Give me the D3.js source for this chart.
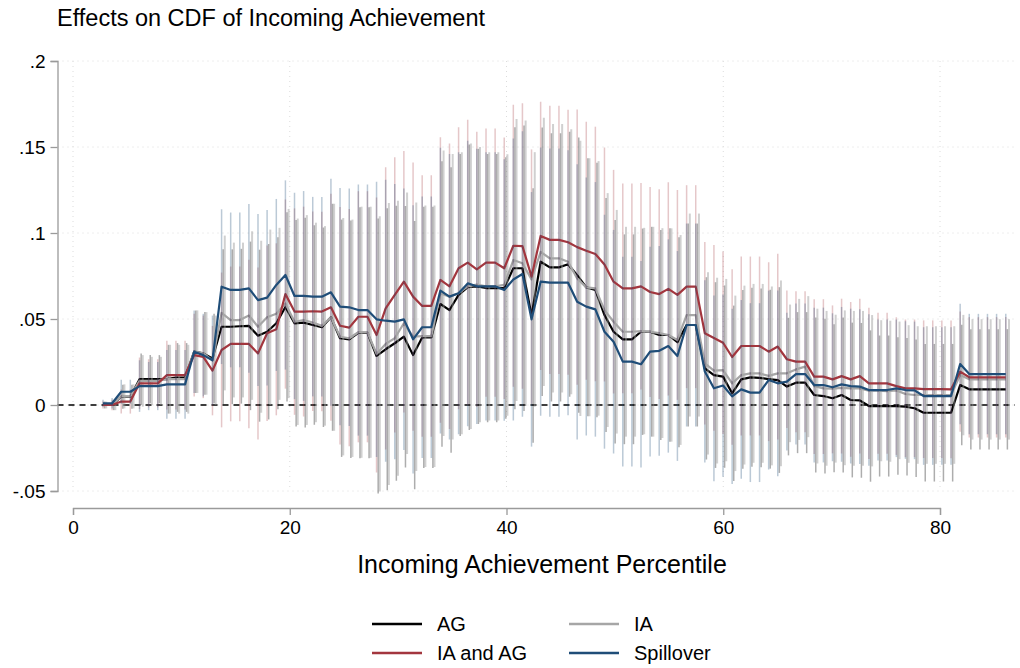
<!DOCTYPE html>
<html>
<head>
<meta charset="utf-8">
<script src="https://cdn.jsdelivr.net/npm/d3@7/dist/d3.min.js"></script>
<style>
body { margin: 0; background: #fff; }
text { font-family: "Liberation Sans", Arial, sans-serif; }
</style>
</head>
<body>
<svg id="chart" width="1020" height="668"></svg>
<script>
// percentile position of each estimate (x axis)
var percentiles = [2.77, 3.61, 4.45, 5.29, 6.14, 6.98, 7.82, 8.66, 9.50, 10.34,
    11.18, 12.02, 12.87, 13.71, 14.55, 15.39, 16.23, 17.07, 17.91, 18.76,
    19.60, 20.44, 21.28, 22.12, 22.96, 23.80, 24.64, 25.49, 26.33, 27.17,
    28.01, 28.85, 29.69, 30.53, 31.38, 32.22, 33.06, 33.90, 34.74, 35.58,
    36.42, 37.26, 38.11, 38.95, 39.79, 40.63, 41.47, 42.31, 43.15, 44.00,
    44.84, 45.68, 46.52, 47.36, 48.20, 49.04, 49.88, 50.73, 51.57, 52.41,
    53.25, 54.09, 54.93, 55.77, 56.62, 57.46, 58.30, 59.14, 59.98, 60.82,
    61.66, 62.50, 63.35, 64.19, 65.03, 65.87, 66.71, 67.55, 68.39, 69.24,
    70.08, 70.92, 71.76, 72.60, 73.44, 74.28, 75.12, 75.97, 76.81, 77.65,
    78.49, 79.33, 80.17, 81.02, 81.86, 82.70, 83.54, 84.38, 85.22, 86.07];

var agEffect = [0, 0, .0048, .0048, .015, .015, .015, .015, .016, .016,
    .031, .030, .027, .0455, .0455, .0458, .046, .0403, .0426, .0475,
    .057, .0475, .0479, .0465, .0452, .051, .0388, .0382, .042, .042,
    .0285, .0324, .0359, .0397, .029, .0393, .0393, .0587, .0552, .064,
    .0685, .069, .068, .068, .068, .0795, .0795, .052, .0833, .080,
    .080, .0818, .0755, .0684, .0669, .0523, .0426, .0382, .0382, .0426,
    .0426, .0407, .0407, .0365, .0465, .0465, .0213, .0174, .0165, .0068,
    .0149, .0161, .0158, .0150, .0145, .0107, .013, .013, .0058, .0052,
    .0039, .0058, .0029, .0027, -.0006, -.0006, -.0006, -.0006, -.001, -.0019,
    -.0045, -.0045, -.0045, -.0045, .0116, .0091, .0091, .0091, .0091, .0091];

var iaEffect = [0, 0, .005, .005, .014, .014, .014, .015, .015, .015,
    .031, .030, .026, .0535, .0494, .0494, .052, .0455, .051, .053,
    .059, .0484, .0494, .048, .046, .051, .0397, .0388, .0423, .0423,
    .0297, .0355, .0388, .0475, .0397, .040, .040, .065, .063, .065,
    .069, .070, .069, .069, .0698, .0843, .0824, .073, .089, .0853,
    .0853, .0833, .0736, .0684, .0678, .0552, .0484, .0426, .0426, .043,
    .0426, .0418, .0407, .0378, .0523, .0523, .0242, .020, .0203, .0126,
    .0174, .0184, .0184, .0169, .0184, .0184, .0207, .0223, .011, .0097,
    .0095, .010, .0097, .0097, .0083, .0083, .008, .0085, .0064, .0058,
    .0058, .0058, .0058, .0058, .0174, .0149, .0149, .0149, .0149, .0149];

var iaAgEffect = [0, 0, .002, .002, .0126, .0126, .0126, .0174, .0174, .0174,
    .029, .028, .020, .032, .0355, .0355, .0355, .030, .0417, .044,
    .0645, .0543, .0543, .0545, .0543, .0568, .0461, .045, .0513, .0513,
    .0407, .0562, .064, .0717, .063, .0576, .0576, .0727, .069, .0795,
    .0828, .0789, .0828, .0828, .0795, .0926, .0924, .0746, .0983, .096,
    .096, .0946, .0918, .0897, .0878, .0817, .0717, .0678, .0678, .069,
    .0657, .0645, .0675, .064, .0688, .0688, .0417, .039, .0362, .0279,
    .0343, .0343, .0343, .031, .034, .0266, .0252, .0252, .0165, .0165,
    .0149, .0168, .0149, .0168, .0126, .0126, .0126, .011, .0097, .0097,
    .0092, .0092, .0092, .0091, .0194, .0161, .0161, .0161, .0161, .0161];

var spilloverEffect = [.001, .001, .0077, .0077, .011, .011, .011, .012, .012, .012,
    .031, .029, .026, .0688, .0669, .0669, .0678, .061, .0624, .0698,
    .0756, .0634, .0634, .063, .063, .0655, .0572, .0568, .0552, .0552,
    .0498, .049, .0485, .0498, .0382, .0452, .0452, .0665, .063, .065,
    .0707, .069, .069, .069, .0669, .073, .0762, .0498, .0717, .0711,
    .0711, .0711, .060, .0572, .0556, .0426, .0368, .0252, .0252, .0237,
    .031, .0315, .0343, .0285, .0465, .0465, .0195, .0097, .0113, .005,
    .0091, .0072, .0072, .0145, .0126, .0136, .018, .018, .0116, .0116,
    .0103, .012, .011, .0107, .0087, .0087, .0087, .0097, .0087, .0085,
    .0052, .0052, .0052, .0052, .0238, .018, .018, .018, .018, .018];

// half width of the 95% interval at each percentile
var ciHalfWidth = [.002, .003, .007, .007, .015, .014, .014, .020, .020, .020,
    .024, .024, .026, .045, .045, .045, .049, .050, .051, .050,
    .055, .060, .061, .058, .058, .066, .069, .069, .073, .073,
    .080, .082, .080, .076, .078, .076, .076, .083, .083, .082,
    .083, .080, .078, .078, .076, .082, .083, .074, .078, .078,
    .078, .077, .080, .075, .074, .068, .065, .061, .061, .060,
    .061, .061, .062, .061, .059, .059, .053, .054, .053, .051,
    .052, .052, .052, .052, .054, .040, .041, .041, .045, .045,
    .043, .045, .045, .045, .044, .041, .041, .040, .040, .040,
    .040, .040, .040, .040, .035, .035, .035, .035, .035, .035];

var seriesNames = ["AG", "IA", "IA and AG", "Spillover"];
var seriesValues = [agEffect, iaEffect, iaAgEffect, spilloverEffect];
var seriesColors = ["#000000", "#a6a6a6", "#a3363e", "#1f4d78"];
var ciColors = ["rgba(0,0,0,0.32)", "rgba(150,150,150,0.45)", "rgba(163,54,62,0.28)", "rgba(31,77,120,0.3)"];
var ciOffsets = [1.6, 3.2, 0, 0];

var xTicks = [0, 20, 40, 60, 80];
var yTicks = [-0.05, 0, 0.05, 0.1, 0.15, 0.2];

var svg = d3.select("#chart");
var x = d3.scaleLinear().domain([0, 80]).range([73, 940]);
var y = d3.scaleLinear().domain([-0.05, 0.2]).range([491, 61]);
var plotLeft = 57.5, plotRight = 1015, xAxisY = 508;

// grid
svg.append("g").selectAll("line").data(yTicks).enter().append("line")
    .attr("x1", plotLeft).attr("x2", plotRight)
    .attr("y1", function (d) { return y(d); }).attr("y2", function (d) { return y(d); })
    .attr("stroke", "#dcdcdc").attr("stroke-width", 1).attr("stroke-dasharray", "1,4");
svg.append("g").selectAll("line").data(xTicks).enter().append("line")
    .attr("x1", function (d) { return x(d); }).attr("x2", function (d) { return x(d); })
    .attr("y1", y(0.2)).attr("y2", y(-0.05))
    .attr("stroke", "#dcdcdc").attr("stroke-width", 1).attr("stroke-dasharray", "1,4");

// zero reference line
svg.append("line")
    .attr("x1", plotLeft).attr("x2", plotRight)
    .attr("y1", y(0)).attr("y2", y(0))
    .attr("stroke", "#000").attr("stroke-width", 1.5).attr("stroke-dasharray", "6,5");

var line = d3.line()
    .x(function (d, i) { return x(percentiles[i]); })
    .y(function (d) { return y(d); });

seriesValues.forEach(function (vals, s) {
    // confidence spikes
    svg.append("g").selectAll("line").data(vals).enter().append("line")
        .attr("x1", function (d, i) { return x(percentiles[i]) + ciOffsets[s]; })
        .attr("x2", function (d, i) { return x(percentiles[i]) + ciOffsets[s]; })
        .attr("y1", function (d, i) { return y(d - ciHalfWidth[i]); })
        .attr("y2", function (d, i) { return y(d + ciHalfWidth[i]); })
        .attr("stroke", ciColors[s])
        .attr("stroke-width", s === 1 ? 2 : 1.5);
    svg.append("path").datum(vals)
        .attr("d", line)
        .attr("fill", "none")
        .attr("stroke", seriesColors[s])
        .attr("stroke-width", 2.2)
        .attr("stroke-linejoin", "round");
});

// axes
var yAxis = svg.append("g").attr("transform", "translate(" + plotLeft + ",0)")
    .call(d3.axisLeft(y).tickValues(yTicks).tickSizeOuter(0).tickSize(7)
        .tickFormat(function (d) { return d === 0 ? "0" : String(+d.toFixed(2)).replace("0.", "."); }));
var xAxis = svg.append("g").attr("transform", "translate(0," + xAxisY + ")")
    .call(d3.axisBottom(x).tickValues(xTicks).tickSizeOuter(0).tickSize(7));
[yAxis, xAxis].forEach(function (g) {
    g.select(".domain").attr("stroke", "#9a9a9a").attr("stroke-width", 1.3);
    g.selectAll(".tick line").attr("stroke", "#9a9a9a").attr("stroke-width", 1.3);
    g.selectAll(".tick text").attr("fill", "#000").style("font-size", "19px")
        .style("font-family", "'Liberation Sans', Arial, sans-serif");
});
yAxis.selectAll(".tick text").attr("x", -12);
xAxis.selectAll(".tick text").attr("y", 13);

// titles
svg.append("text").attr("x", 57).attr("y", 26)
    .style("font-size", "23.5px").text("Effects on CDF of Incoming Achievement");
svg.append("text").attr("x", 542).attr("y", 573).attr("text-anchor", "middle")
    .style("font-size", "25px").text("Incoming Achievement Percentile");

// legend
var legendPos = [[372, 624], [569, 624], [372, 653], [569, 653]];
seriesNames.forEach(function (name, s) {
    var p = legendPos[s];
    svg.append("line").attr("x1", p[0]).attr("x2", p[0] + 50)
        .attr("y1", p[1]).attr("y2", p[1])
        .attr("stroke", seriesColors[s]).attr("stroke-width", 2.5);
    svg.append("text").attr("x", p[0] + 65).attr("y", p[1] + 7)
        .style("font-size", "20px").text(name);
});
</script>
</body>
</html>
